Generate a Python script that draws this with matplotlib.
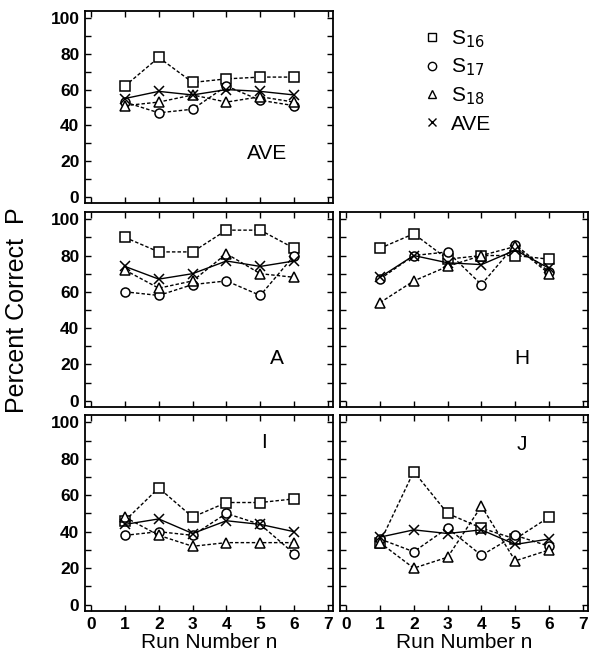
import matplotlib
matplotlib.use('Agg')
import matplotlib.pyplot as plt
from matplotlib.lines import Line2D
from matplotlib.ticker import MultipleLocator

plt.rcParams['font.family'] = ['Liberation Sans', 'DejaVu Sans']

# run numbers on the x axis
runs = [1, 2, 3, 4, 5, 6]

# percent correct for each subject and their average, per panel
ave_s16 = [62, 78, 64, 66, 67, 67]
ave_s17 = [53, 47, 49, 62, 54, 51]
ave_s18 = [51, 53, 57, 53, 56, 53]
ave_ave = [55, 59, 57, 60, 59, 57]

a_s16 = [90, 82, 82, 94, 94, 84]
a_s17 = [60, 58, 64, 66, 58, 80]
a_s18 = [72, 62, 66, 81, 70, 68]
a_ave = [74, 67, 70, 77, 74, 77]

h_s16 = [84, 92, 78, 80, 80, 78]
h_s17 = [67, 80, 82, 64, 86, 71]
h_s18 = [54, 66, 74, 80, 85, 70]
h_ave = [68, 80, 76, 75, 83, 73]

i_s16 = [46, 64, 48, 56, 56, 58]
i_s17 = [38, 40, 38, 50, 44, 28]
i_s18 = [48, 38, 32, 34, 34, 34]
i_ave = [44, 47, 39, 46, 44, 40]

j_s16 = [34, 73, 50, 42, 36, 48]
j_s17 = [36, 29, 42, 27, 38, 32]
j_s18 = [34, 20, 26, 54, 24, 30]
j_ave = [37, 41, 39, 41, 33, 36]

series_labels = ['S$_{16}$', 'S$_{17}$', 'S$_{18}$', 'AVE']
markers = ['s', 'o', '^', 'x']
styles = [(0, (2.5, 1.5)), (0, (2.5, 1.5)), (0, (2.5, 1.5)), '-']

W, H = 590, 656
fig = plt.figure(figsize=(W / 100, H / 100), dpi=100)


def box(x0, y0, x1, y1):
    # pixel box -> figure fraction rect
    return [x0 / W, 1 - y1 / H, (x1 - x0) / W, (y1 - y0) / H]


def panel(rect, data, name, name_xy, show_x, show_y):
    ax = fig.add_axes(rect)
    for vals, m, ls in zip(data, markers, styles):
        ax.plot(runs, vals, color='black', linestyle=ls, linewidth=1.0,
                marker=m, markersize=6.5 if m != 'x' else 7.5,
                markerfacecolor='white', markeredgecolor='black',
                markeredgewidth=1.1)
    ax.set_xlim(-0.18, 7.15)
    ax.set_ylim(-3.5, 104)
    ax.xaxis.set_major_locator(MultipleLocator(1))
    ax.yaxis.set_major_locator(MultipleLocator(20))
    ax.yaxis.set_minor_locator(MultipleLocator(10))
    ax.tick_params(which='both', direction='in', top=True, right=True,
                   length=4, width=1.0, labelsize=12.5, pad=4)
    if not show_x:
        ax.tick_params(labelbottom=False)
    else:
        ax.set_xlabel('Run Number n', fontsize=15, labelpad=1)
    if not show_y:
        ax.tick_params(labelleft=False)
    for lab in ax.get_xticklabels() + ax.get_yticklabels():
        lab.set_fontweight('bold')
    for sp in ax.spines.values():
        sp.set_linewidth(1.3)
    ax.text(name_xy[0], name_xy[1], name, fontsize=15, ha='center',
            va='center')
    return ax


panel(box(85, 11, 333, 203), [ave_s16, ave_s17, ave_s18, ave_ave],
      'AVE', (5.2, 24), False, True)
panel(box(85, 212, 333, 407), [a_s16, a_s17, a_s18, a_ave],
      'A', (5.5, 23), False, True)
panel(box(340, 212, 588, 407), [h_s16, h_s17, h_s18, h_ave],
      'H', (5.2, 23), False, False)
panel(box(85, 415, 333, 611), [i_s16, i_s17, i_s18, i_ave],
      'I', (5.1, 89), True, True)
panel(box(340, 415, 588, 611), [j_s16, j_s17, j_s18, j_ave],
      'J', (5.2, 88), True, False)

fig.text(17 / W, 1 - 310 / H, 'Percent Correct  P', rotation=90,
         ha='center', va='center', fontsize=18)

handles = [Line2D([], [], linestyle='none', marker=m, color='black',
                  markerfacecolor='white', markersize=6, markeredgewidth=1.0)
           for m in markers]
fig.legend(handles, series_labels, loc='upper left',
           bbox_to_anchor=(424 / W, 1 - 28 / H), frameon=False,
           fontsize=15, handlelength=0.8, handletextpad=0.5,
           labelspacing=0.35, borderpad=0, borderaxespad=0)

fig.savefig('out.png', dpi=100)
